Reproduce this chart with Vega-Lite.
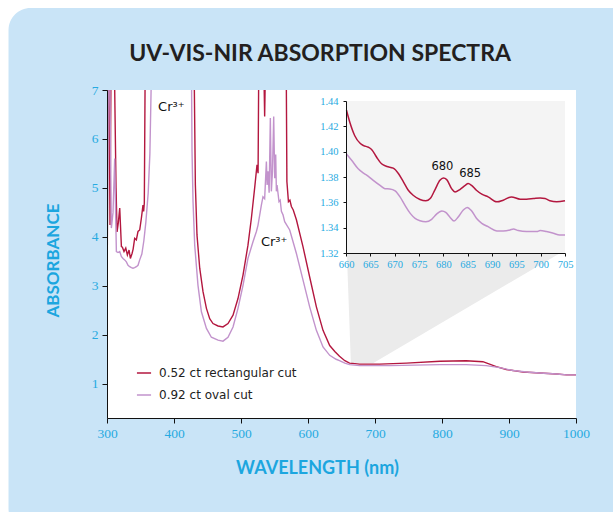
{
"$schema": "https://vega.github.io/schema/vega-lite/v6.json",
"width": 469, "height": 328,
"autosize": {"type": "none"},
"padding": {"left": 107, "top": 90, "right": 37, "bottom": 94},
"background": "white",
"view": {"stroke": null},
"config": {
 "axis": {"grid": false, "domainColor": "#111", "tickColor": "#111", "labelColor": "#27aae1", "titleColor": "#1ca6df", "zindex": 1, "labelFlush": false, "labelOverlap": false, "labelFont": "Liberation Sans Narrow", "titleFont": "Lato", "titleFontWeight": "bold"},
 "text": {"font": "DejaVu Sans"}
},
"datasets": {
 "main": [
  {"sample": "0.52 ct rectangular cut", "nm": 300.5, "a": 3.8},
  {"sample": "0.52 ct rectangular cut", "nm": 301.5, "a": 7.5},
  {"sample": "0.52 ct rectangular cut", "nm": 303, "a": 7.5},
  {"sample": "0.52 ct rectangular cut", "nm": 304.5, "a": 4.24},
  {"sample": "0.52 ct rectangular cut", "nm": 306, "a": 7.5},
  {"sample": "0.52 ct rectangular cut", "nm": 311, "a": 7.5},
  {"sample": "0.52 ct rectangular cut", "nm": 313.5, "a": 5.0},
  {"sample": "0.52 ct rectangular cut", "nm": 315, "a": 4.1},
  {"sample": "0.52 ct rectangular cut", "nm": 317, "a": 4.3},
  {"sample": "0.52 ct rectangular cut", "nm": 319, "a": 4.59},
  {"sample": "0.52 ct rectangular cut", "nm": 321.5, "a": 3.8},
  {"sample": "0.52 ct rectangular cut", "nm": 323, "a": 3.79},
  {"sample": "0.52 ct rectangular cut", "nm": 325.4, "a": 3.70},
  {"sample": "0.52 ct rectangular cut", "nm": 328, "a": 3.77},
  {"sample": "0.52 ct rectangular cut", "nm": 330.4, "a": 3.63},
  {"sample": "0.52 ct rectangular cut", "nm": 332.9, "a": 3.73},
  {"sample": "0.52 ct rectangular cut", "nm": 334.9, "a": 3.56},
  {"sample": "0.52 ct rectangular cut", "nm": 337.4, "a": 3.66},
  {"sample": "0.52 ct rectangular cut", "nm": 339, "a": 3.75},
  {"sample": "0.52 ct rectangular cut", "nm": 341.3, "a": 3.97},
  {"sample": "0.52 ct rectangular cut", "nm": 343.8, "a": 3.94},
  {"sample": "0.52 ct rectangular cut", "nm": 346.3, "a": 4.11},
  {"sample": "0.52 ct rectangular cut", "nm": 348.8, "a": 4.14},
  {"sample": "0.52 ct rectangular cut", "nm": 351.3, "a": 4.38},
  {"sample": "0.52 ct rectangular cut", "nm": 353.7, "a": 4.65},
  {"sample": "0.52 ct rectangular cut", "nm": 354.7, "a": 4.52},
  {"sample": "0.52 ct rectangular cut", "nm": 355.7, "a": 4.69},
  {"sample": "0.52 ct rectangular cut", "nm": 357, "a": 7.5},
  {"sample": "0.52 ct rectangular cut", "nm": 430, "a": 7.5},
  {"sample": "0.52 ct rectangular cut", "nm": 431.9, "a": 5.06},
  {"sample": "0.52 ct rectangular cut", "nm": 434.3, "a": 4.04},
  {"sample": "0.52 ct rectangular cut", "nm": 438.4, "a": 3.36},
  {"sample": "0.52 ct rectangular cut", "nm": 443.3, "a": 2.88},
  {"sample": "0.52 ct rectangular cut", "nm": 448.4, "a": 2.54},
  {"sample": "0.52 ct rectangular cut", "nm": 453.3, "a": 2.33},
  {"sample": "0.52 ct rectangular cut", "nm": 458.2, "a": 2.23},
  {"sample": "0.52 ct rectangular cut", "nm": 465.7, "a": 2.18},
  {"sample": "0.52 ct rectangular cut", "nm": 473.1, "a": 2.16},
  {"sample": "0.52 ct rectangular cut", "nm": 480.6, "a": 2.23},
  {"sample": "0.52 ct rectangular cut", "nm": 488.1, "a": 2.40},
  {"sample": "0.52 ct rectangular cut", "nm": 495.5, "a": 2.74},
  {"sample": "0.52 ct rectangular cut", "nm": 503, "a": 3.22},
  {"sample": "0.52 ct rectangular cut", "nm": 510.4, "a": 3.83},
  {"sample": "0.52 ct rectangular cut", "nm": 515.5, "a": 4.38},
  {"sample": "0.52 ct rectangular cut", "nm": 520.4, "a": 5.0},
  {"sample": "0.52 ct rectangular cut", "nm": 523.9, "a": 5.47},
  {"sample": "0.52 ct rectangular cut", "nm": 525.5, "a": 5.3},
  {"sample": "0.52 ct rectangular cut", "nm": 526.5, "a": 7.5},
  {"sample": "0.52 ct rectangular cut", "nm": 534, "a": 7.5},
  {"sample": "0.52 ct rectangular cut", "nm": 535.3, "a": 6.46},
  {"sample": "0.52 ct rectangular cut", "nm": 536.5, "a": 7.5},
  {"sample": "0.52 ct rectangular cut", "nm": 567.5, "a": 7.5},
  {"sample": "0.52 ct rectangular cut", "nm": 568.5, "a": 5.13},
  {"sample": "0.52 ct rectangular cut", "nm": 570.8, "a": 4.72},
  {"sample": "0.52 ct rectangular cut", "nm": 573, "a": 4.75},
  {"sample": "0.52 ct rectangular cut", "nm": 575.2, "a": 4.62},
  {"sample": "0.52 ct rectangular cut", "nm": 578, "a": 4.55},
  {"sample": "0.52 ct rectangular cut", "nm": 582.7, "a": 4.35},
  {"sample": "0.52 ct rectangular cut", "nm": 592.5, "a": 3.80},
  {"sample": "0.52 ct rectangular cut", "nm": 602.5, "a": 3.18},
  {"sample": "0.52 ct rectangular cut", "nm": 612.5, "a": 2.57},
  {"sample": "0.52 ct rectangular cut", "nm": 622.4, "a": 2.09},
  {"sample": "0.52 ct rectangular cut", "nm": 632.4, "a": 1.78},
  {"sample": "0.52 ct rectangular cut", "nm": 640, "a": 1.66},
  {"sample": "0.52 ct rectangular cut", "nm": 647, "a": 1.56},
  {"sample": "0.52 ct rectangular cut", "nm": 655, "a": 1.47},
  {"sample": "0.52 ct rectangular cut", "nm": 662, "a": 1.42},
  {"sample": "0.52 ct rectangular cut", "nm": 670, "a": 1.41},
  {"sample": "0.52 ct rectangular cut", "nm": 677, "a": 1.40},
  {"sample": "0.52 ct rectangular cut", "nm": 707, "a": 1.40},
  {"sample": "0.52 ct rectangular cut", "nm": 747, "a": 1.42},
  {"sample": "0.52 ct rectangular cut", "nm": 797, "a": 1.46},
  {"sample": "0.52 ct rectangular cut", "nm": 836, "a": 1.47},
  {"sample": "0.52 ct rectangular cut", "nm": 861, "a": 1.45},
  {"sample": "0.52 ct rectangular cut", "nm": 881, "a": 1.35},
  {"sample": "0.52 ct rectangular cut", "nm": 896, "a": 1.29},
  {"sample": "0.52 ct rectangular cut", "nm": 921, "a": 1.24},
  {"sample": "0.52 ct rectangular cut", "nm": 946, "a": 1.22},
  {"sample": "0.52 ct rectangular cut", "nm": 971, "a": 1.20},
  {"sample": "0.52 ct rectangular cut", "nm": 986, "a": 1.18},
  {"sample": "0.52 ct rectangular cut", "nm": 1000, "a": 1.18},
  {"sample": "0.92 ct oval cut", "nm": 300.5, "a": 4.0},
  {"sample": "0.92 ct oval cut", "nm": 302, "a": 7.5},
  {"sample": "0.92 ct oval cut", "nm": 304, "a": 7.5},
  {"sample": "0.92 ct oval cut", "nm": 306.5, "a": 4.18},
  {"sample": "0.92 ct oval cut", "nm": 309, "a": 4.5},
  {"sample": "0.92 ct oval cut", "nm": 311.5, "a": 5.6},
  {"sample": "0.92 ct oval cut", "nm": 313, "a": 4.4},
  {"sample": "0.92 ct oval cut", "nm": 314, "a": 3.70},
  {"sample": "0.92 ct oval cut", "nm": 316.4, "a": 3.68},
  {"sample": "0.92 ct oval cut", "nm": 319, "a": 3.70},
  {"sample": "0.92 ct oval cut", "nm": 321.4, "a": 3.60},
  {"sample": "0.92 ct oval cut", "nm": 323.9, "a": 3.56},
  {"sample": "0.92 ct oval cut", "nm": 326.4, "a": 3.53},
  {"sample": "0.92 ct oval cut", "nm": 328.9, "a": 3.49},
  {"sample": "0.92 ct oval cut", "nm": 331.4, "a": 3.42},
  {"sample": "0.92 ct oval cut", "nm": 333.9, "a": 3.39},
  {"sample": "0.92 ct oval cut", "nm": 336.4, "a": 3.37},
  {"sample": "0.92 ct oval cut", "nm": 338.8, "a": 3.36},
  {"sample": "0.92 ct oval cut", "nm": 341.3, "a": 3.37},
  {"sample": "0.92 ct oval cut", "nm": 343.8, "a": 3.39},
  {"sample": "0.92 ct oval cut", "nm": 346.3, "a": 3.42},
  {"sample": "0.92 ct oval cut", "nm": 348.8, "a": 3.53},
  {"sample": "0.92 ct oval cut", "nm": 352, "a": 3.65},
  {"sample": "0.92 ct oval cut", "nm": 355, "a": 3.92},
  {"sample": "0.92 ct oval cut", "nm": 358, "a": 4.30},
  {"sample": "0.92 ct oval cut", "nm": 361.5, "a": 4.9},
  {"sample": "0.92 ct oval cut", "nm": 364, "a": 5.7},
  {"sample": "0.92 ct oval cut", "nm": 366.5, "a": 7.5},
  {"sample": "0.92 ct oval cut", "nm": 426, "a": 7.5},
  {"sample": "0.92 ct oval cut", "nm": 426.9, "a": 5.75},
  {"sample": "0.92 ct oval cut", "nm": 428.4, "a": 4.72},
  {"sample": "0.92 ct oval cut", "nm": 430.9, "a": 3.83},
  {"sample": "0.92 ct oval cut", "nm": 435.8, "a": 3.01},
  {"sample": "0.92 ct oval cut", "nm": 440.9, "a": 2.47},
  {"sample": "0.92 ct oval cut", "nm": 448.4, "a": 2.13},
  {"sample": "0.92 ct oval cut", "nm": 455.8, "a": 1.95},
  {"sample": "0.92 ct oval cut", "nm": 465.7, "a": 1.89},
  {"sample": "0.92 ct oval cut", "nm": 473.1, "a": 1.87},
  {"sample": "0.92 ct oval cut", "nm": 480.6, "a": 1.95},
  {"sample": "0.92 ct oval cut", "nm": 488.1, "a": 2.16},
  {"sample": "0.92 ct oval cut", "nm": 495.5, "a": 2.54},
  {"sample": "0.92 ct oval cut", "nm": 503, "a": 3.01},
  {"sample": "0.92 ct oval cut", "nm": 510.4, "a": 3.56},
  {"sample": "0.92 ct oval cut", "nm": 517.9, "a": 3.90},
  {"sample": "0.92 ct oval cut", "nm": 523, "a": 4.11},
  {"sample": "0.92 ct oval cut", "nm": 525.4, "a": 4.24},
  {"sample": "0.92 ct oval cut", "nm": 530.4, "a": 4.65},
  {"sample": "0.92 ct oval cut", "nm": 532.8, "a": 4.82},
  {"sample": "0.92 ct oval cut", "nm": 535.3, "a": 4.78},
  {"sample": "0.92 ct oval cut", "nm": 537.9, "a": 5.54},
  {"sample": "0.92 ct oval cut", "nm": 539, "a": 5.06},
  {"sample": "0.92 ct oval cut", "nm": 540.3, "a": 5.34},
  {"sample": "0.92 ct oval cut", "nm": 542, "a": 4.9},
  {"sample": "0.92 ct oval cut", "nm": 543.8, "a": 6.43},
  {"sample": "0.92 ct oval cut", "nm": 545.3, "a": 4.93},
  {"sample": "0.92 ct oval cut", "nm": 547, "a": 5.34},
  {"sample": "0.92 ct oval cut", "nm": 548.8, "a": 6.46},
  {"sample": "0.92 ct oval cut", "nm": 550.3, "a": 5.2},
  {"sample": "0.92 ct oval cut", "nm": 551.8, "a": 5.68},
  {"sample": "0.92 ct oval cut", "nm": 552.8, "a": 4.93},
  {"sample": "0.92 ct oval cut", "nm": 553.8, "a": 5.06},
  {"sample": "0.92 ct oval cut", "nm": 556.7, "a": 4.72},
  {"sample": "0.92 ct oval cut", "nm": 558.5, "a": 4.75},
  {"sample": "0.92 ct oval cut", "nm": 560.3, "a": 4.52},
  {"sample": "0.92 ct oval cut", "nm": 562.7, "a": 4.45},
  {"sample": "0.92 ct oval cut", "nm": 565.2, "a": 4.31},
  {"sample": "0.92 ct oval cut", "nm": 572.7, "a": 4.14},
  {"sample": "0.92 ct oval cut", "nm": 582.7, "a": 3.66},
  {"sample": "0.92 ct oval cut", "nm": 592.5, "a": 3.12},
  {"sample": "0.92 ct oval cut", "nm": 602.5, "a": 2.57},
  {"sample": "0.92 ct oval cut", "nm": 612.5, "a": 2.09},
  {"sample": "0.92 ct oval cut", "nm": 622.4, "a": 1.75},
  {"sample": "0.92 ct oval cut", "nm": 632.4, "a": 1.58},
  {"sample": "0.92 ct oval cut", "nm": 642, "a": 1.50},
  {"sample": "0.92 ct oval cut", "nm": 647, "a": 1.47},
  {"sample": "0.92 ct oval cut", "nm": 655, "a": 1.42},
  {"sample": "0.92 ct oval cut", "nm": 662, "a": 1.39},
  {"sample": "0.92 ct oval cut", "nm": 677, "a": 1.37},
  {"sample": "0.92 ct oval cut", "nm": 722, "a": 1.37},
  {"sample": "0.92 ct oval cut", "nm": 797, "a": 1.39},
  {"sample": "0.92 ct oval cut", "nm": 836, "a": 1.39},
  {"sample": "0.92 ct oval cut", "nm": 866, "a": 1.37},
  {"sample": "0.92 ct oval cut", "nm": 886, "a": 1.33},
  {"sample": "0.92 ct oval cut", "nm": 906, "a": 1.27},
  {"sample": "0.92 ct oval cut", "nm": 926, "a": 1.24},
  {"sample": "0.92 ct oval cut", "nm": 946, "a": 1.22},
  {"sample": "0.92 ct oval cut", "nm": 971, "a": 1.20},
  {"sample": "0.92 ct oval cut", "nm": 986, "a": 1.18},
  {"sample": "0.92 ct oval cut", "nm": 1000, "a": 1.18}
 ],
 "inset": [
  {"sample": "0.52 ct rectangular cut", "nm": 660.1, "a": 1.4327},
  {"sample": "0.52 ct rectangular cut", "nm": 660.8, "a": 1.4230},
  {"sample": "0.52 ct rectangular cut", "nm": 661.8, "a": 1.4126},
  {"sample": "0.52 ct rectangular cut", "nm": 662.9, "a": 1.4066},
  {"sample": "0.52 ct rectangular cut", "nm": 663.6, "a": 1.4048},
  {"sample": "0.52 ct rectangular cut", "nm": 664.6, "a": 1.4035},
  {"sample": "0.52 ct rectangular cut", "nm": 665.3, "a": 1.4016},
  {"sample": "0.52 ct rectangular cut", "nm": 666.3, "a": 1.3956},
  {"sample": "0.52 ct rectangular cut", "nm": 667.3, "a": 1.3904},
  {"sample": "0.52 ct rectangular cut", "nm": 668.4, "a": 1.3883},
  {"sample": "0.52 ct rectangular cut", "nm": 669.7, "a": 1.3870},
  {"sample": "0.52 ct rectangular cut", "nm": 670.8, "a": 1.3826},
  {"sample": "0.52 ct rectangular cut", "nm": 671.8, "a": 1.3761},
  {"sample": "0.52 ct rectangular cut", "nm": 672.8, "a": 1.3695},
  {"sample": "0.52 ct rectangular cut", "nm": 673.8, "a": 1.3656},
  {"sample": "0.52 ct rectangular cut", "nm": 675.2, "a": 1.3622},
  {"sample": "0.52 ct rectangular cut", "nm": 676.4, "a": 1.3612},
  {"sample": "0.52 ct rectangular cut", "nm": 677.3, "a": 1.3630},
  {"sample": "0.52 ct rectangular cut", "nm": 678.3, "a": 1.3701},
  {"sample": "0.52 ct rectangular cut", "nm": 679.3, "a": 1.3774},
  {"sample": "0.52 ct rectangular cut", "nm": 680.0, "a": 1.3792},
  {"sample": "0.52 ct rectangular cut", "nm": 680.7, "a": 1.3779},
  {"sample": "0.52 ct rectangular cut", "nm": 681.7, "a": 1.3708},
  {"sample": "0.52 ct rectangular cut", "nm": 682.4, "a": 1.3682},
  {"sample": "0.52 ct rectangular cut", "nm": 683.4, "a": 1.3701},
  {"sample": "0.52 ct rectangular cut", "nm": 684.5, "a": 1.3734},
  {"sample": "0.52 ct rectangular cut", "nm": 685.1, "a": 1.3748},
  {"sample": "0.52 ct rectangular cut", "nm": 685.8, "a": 1.3734},
  {"sample": "0.52 ct rectangular cut", "nm": 686.8, "a": 1.3695},
  {"sample": "0.52 ct rectangular cut", "nm": 687.9, "a": 1.3664},
  {"sample": "0.52 ct rectangular cut", "nm": 689.2, "a": 1.3643},
  {"sample": "0.52 ct rectangular cut", "nm": 691.0, "a": 1.3604},
  {"sample": "0.52 ct rectangular cut", "nm": 692.3, "a": 1.3617},
  {"sample": "0.52 ct rectangular cut", "nm": 694.0, "a": 1.3643},
  {"sample": "0.52 ct rectangular cut", "nm": 695.8, "a": 1.3625},
  {"sample": "0.52 ct rectangular cut", "nm": 697.1, "a": 1.3625},
  {"sample": "0.52 ct rectangular cut", "nm": 698.5, "a": 1.3630},
  {"sample": "0.52 ct rectangular cut", "nm": 699.9, "a": 1.3635},
  {"sample": "0.52 ct rectangular cut", "nm": 700.9, "a": 1.3630},
  {"sample": "0.52 ct rectangular cut", "nm": 701.9, "a": 1.3612},
  {"sample": "0.52 ct rectangular cut", "nm": 703.3, "a": 1.3604},
  {"sample": "0.52 ct rectangular cut", "nm": 705.0, "a": 1.3612},
  {"sample": "0.92 ct oval cut", "nm": 660.1, "a": 1.3982},
  {"sample": "0.92 ct oval cut", "nm": 661.2, "a": 1.3930},
  {"sample": "0.92 ct oval cut", "nm": 662.5, "a": 1.3865},
  {"sample": "0.92 ct oval cut", "nm": 663.6, "a": 1.3831},
  {"sample": "0.92 ct oval cut", "nm": 664.6, "a": 1.3805},
  {"sample": "0.92 ct oval cut", "nm": 665.6, "a": 1.3774},
  {"sample": "0.92 ct oval cut", "nm": 667.0, "a": 1.3734},
  {"sample": "0.92 ct oval cut", "nm": 668.0, "a": 1.3708},
  {"sample": "0.92 ct oval cut", "nm": 669.0, "a": 1.3706},
  {"sample": "0.92 ct oval cut", "nm": 670.1, "a": 1.3690},
  {"sample": "0.92 ct oval cut", "nm": 671.1, "a": 1.3643},
  {"sample": "0.92 ct oval cut", "nm": 672.1, "a": 1.3578},
  {"sample": "0.92 ct oval cut", "nm": 673.2, "a": 1.3513},
  {"sample": "0.92 ct oval cut", "nm": 674.2, "a": 1.3474},
  {"sample": "0.92 ct oval cut", "nm": 675.2, "a": 1.3455},
  {"sample": "0.92 ct oval cut", "nm": 676.4, "a": 1.3447},
  {"sample": "0.92 ct oval cut", "nm": 677.6, "a": 1.3466},
  {"sample": "0.92 ct oval cut", "nm": 678.6, "a": 1.3507},
  {"sample": "0.92 ct oval cut", "nm": 679.7, "a": 1.3531},
  {"sample": "0.92 ct oval cut", "nm": 680.5, "a": 1.3520},
  {"sample": "0.92 ct oval cut", "nm": 681.4, "a": 1.3481},
  {"sample": "0.92 ct oval cut", "nm": 682.2, "a": 1.3453},
  {"sample": "0.92 ct oval cut", "nm": 683.1, "a": 1.3487},
  {"sample": "0.92 ct oval cut", "nm": 684.1, "a": 1.3539},
  {"sample": "0.92 ct oval cut", "nm": 684.9, "a": 1.3560},
  {"sample": "0.92 ct oval cut", "nm": 685.8, "a": 1.3533},
  {"sample": "0.92 ct oval cut", "nm": 686.8, "a": 1.3474},
  {"sample": "0.92 ct oval cut", "nm": 687.9, "a": 1.3434},
  {"sample": "0.92 ct oval cut", "nm": 689.2, "a": 1.3408},
  {"sample": "0.92 ct oval cut", "nm": 691.0, "a": 1.3374},
  {"sample": "0.92 ct oval cut", "nm": 692.3, "a": 1.3374},
  {"sample": "0.92 ct oval cut", "nm": 693.7, "a": 1.3382},
  {"sample": "0.92 ct oval cut", "nm": 694.4, "a": 1.3390},
  {"sample": "0.92 ct oval cut", "nm": 695.4, "a": 1.3377},
  {"sample": "0.92 ct oval cut", "nm": 697.1, "a": 1.3369},
  {"sample": "0.92 ct oval cut", "nm": 699.2, "a": 1.3369},
  {"sample": "0.92 ct oval cut", "nm": 699.9, "a": 1.3377},
  {"sample": "0.92 ct oval cut", "nm": 701.2, "a": 1.3369},
  {"sample": "0.92 ct oval cut", "nm": 702.6, "a": 1.3356},
  {"sample": "0.92 ct oval cut", "nm": 703.9, "a": 1.3343},
  {"sample": "0.92 ct oval cut", "nm": 705.0, "a": 1.3343}
 ]
},
"layer": [
 {"layer": [
  {"data": {"values": [{}]},
   "mark": {"type": "rect", "fill": "#c9e4f7", "cornerRadius": 22},
   "encoding": {
    "x": {"datum": 153, "type": "quantitative", "scale": {"domain": [300, 1000], "nice": false, "zero": false},
     "axis": {"orient": "bottom", "zindex": 1, "title": "WAVELENGTH (nm)", "format": "d", "values": [300, 400, 500, 600, 700, 800, 900, 1000], "tickSize": 5, "labelFontSize": 13.5, "labelPadding": 3, "titleFontSize": 18, "titleX": 210, "titleY": 50, "titleAlign": "center", "titleBaseline": "middle", "titleAngle": 0}},
    "x2": {"datum": 1100},
    "y": {"datum": 8.675, "type": "quantitative", "scale": {"domain": [0.3, 7], "nice": false, "zero": false},
     "axis": {"orient": "left", "zindex": 1, "title": "ABSORBANCE", "values": [1, 2, 3, 4, 5, 6, 7], "tickSize": 5, "labelFontSize": 13.5, "labelPadding": 4, "titleFontSize": 17, "titleX": -54, "titleY": 170, "titleAngle": -90, "titleAlign": "center", "titleBaseline": "middle"}},
    "y2": {"datum": -2}
   }},
  {"data": {"values": [{}]},
   "mark": {"type": "rect", "fill": "white"},
   "encoding": {"x": {"datum": 300, "type": "quantitative"}, "x2": {"datum": 1000}, "y": {"datum": 0.3, "type": "quantitative"}, "y2": {"datum": 7}}},
  {"data": {"values": [{"t": "UV-VIS-NIR ABSORPTION SPECTRA"}]},
   "mark": {"type": "text", "font": "Lato", "fontSize": 23, "fontWeight": "bold", "color": "#231f20", "align": "center", "baseline": "alphabetic"},
   "encoding": {"x": {"datum": 618, "type": "quantitative"}, "y": {"datum": 7.6, "type": "quantitative"}, "text": {"field": "t"}}},
  {"data": {"values": [{"a": 1.42, "left": 664, "right": 697}, {"a": 3.665, "left": 658, "right": 976}]},
   "mark": {"type": "area", "orient": "horizontal", "fill": "#ebebeb"},
   "encoding": {"y": {"field": "a", "type": "quantitative"}, "x": {"field": "left", "type": "quantitative", "stack": null}, "x2": {"field": "right"}}},
  {"data": {"name": "main"},
   "mark": {"type": "line", "strokeWidth": 1.4, "clip": true},
   "encoding": {
    "x": {"field": "nm", "type": "quantitative"},
    "y": {"field": "a", "type": "quantitative"},
    "color": {"field": "sample", "type": "nominal",
     "scale": {"domain": ["0.52 ct rectangular cut", "0.92 ct oval cut"], "range": ["#b3173f", "#c293cc"]},
     "legend": {"orient": "none", "legendX": 29, "legendY": 275, "title": null, "symbolType": "stroke", "symbolSize": 200, "symbolStrokeWidth": 1.5, "labelFont": "DejaVu Sans", "labelFontSize": 12, "labelColor": "#222", "rowPadding": 8, "labelOffset": 7, "padding": 0}}
   }},
  {"data": {"values": [{"nm": 396, "a": 6.66, "t": "Cr³⁺"}, {"nm": 549.5, "a": 3.9, "t": "Cr³⁺"}]},
   "mark": {"type": "text", "fontSize": 13, "color": "#111", "align": "center", "baseline": "middle"},
   "encoding": {"x": {"field": "nm", "type": "quantitative"}, "y": {"field": "a", "type": "quantitative"}, "text": {"field": "t"}}}
 ]},
 {"layer": [
  {"data": {"values": [{}]},
   "mark": {"type": "rect", "fill": "#f4f4f4"},
   "encoding": {
    "x": {"datum": 660, "type": "quantitative", "scale": {"domain": [660, 705], "range": [239, 458], "nice": false, "zero": false},
     "axis": {"orient": "bottom", "zindex": 1, "title": null, "offset": -165, "values": [660, 665, 670, 675, 680, 685, 690, 695, 700, 705], "tickSize": 3, "labelFontSize": 10.5, "labelPadding": 3}},
    "x2": {"datum": 705},
    "y": {"datum": 1.32, "type": "quantitative", "scale": {"domain": [1.32, 1.44], "range": [163, 11], "nice": false, "zero": false},
     "axis": {"orient": "left", "zindex": 1, "title": null, "offset": -239, "values": [1.32, 1.34, 1.36, 1.38, 1.4, 1.42, 1.44], "format": ".2f", "tickSize": 3, "labelFontSize": 10.5, "labelPadding": 5}},
    "y2": {"datum": 1.44}
   }},
  {"data": {"name": "inset"},
   "mark": {"type": "line", "strokeWidth": 1.5, "interpolate": "monotone"},
   "encoding": {
    "x": {"field": "nm", "type": "quantitative"},
    "y": {"field": "a", "type": "quantitative"},
    "color": {"field": "sample", "type": "nominal"}
   }},
  {"data": {"values": [{"nm": 679.8, "a": 1.3878, "t": "680"}, {"nm": 685.5, "a": 1.3826, "t": "685"}]},
   "mark": {"type": "text", "fontSize": 11.5, "color": "#111", "align": "center", "baseline": "middle"},
   "encoding": {"x": {"field": "nm", "type": "quantitative"}, "y": {"field": "a", "type": "quantitative"}, "text": {"field": "t"}}}
 ]}
],
"resolve": {"scale": {"x": "independent", "y": "independent"}, "axis": {"x": "independent", "y": "independent"}}
}
